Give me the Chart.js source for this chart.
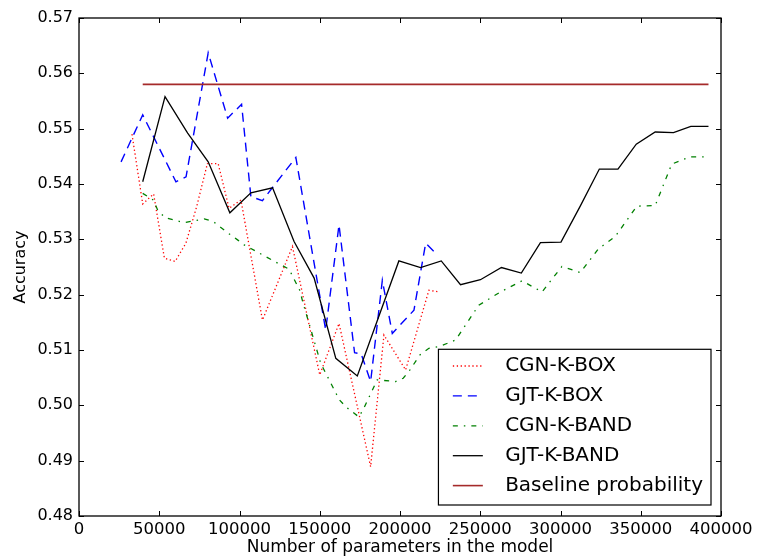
<!DOCTYPE html>
<html><head><meta charset="utf-8">
<script src="https://cdn.jsdelivr.net/npm/chart.js@4/dist/chart.umd.min.js"></script>
<style>html,body{margin:0;padding:0;background:#fff}canvas{display:block}</style>
</head><body>
<canvas id="c" width="758" height="559"></canvas>
<script>
// ---- tick labels ----
const xTicks = [0, 50000, 100000, 150000, 200000, 250000, 300000, 350000, 400000];
const yTicks = [0.48, 0.49, 0.50, 0.51, 0.52, 0.53, 0.54, 0.55, 0.56, 0.57];

// ---- series ----
const seriesNames = ["CGN-K-BOX", "GJT-K-BOX", "CGN-K-BAND", "GJT-K-BAND", "Baseline probability"];

const cgnBoxX = [33000, 39700, 46500, 53200, 59900, 66600, 73300, 80000, 86700, 93500, 100900, 114300, 133000, 150000, 162000, 181700, 190000, 203500, 218000, 224200];
const cgnBoxY = [0.5490, 0.5364, 0.5382, 0.5266, 0.5260, 0.5293, 0.5359, 0.5437, 0.5437, 0.5356, 0.5371, 0.5154, 0.5287, 0.5055, 0.5148, 0.4889, 0.5127, 0.5064, 0.5208, 0.5205];

const gjtBoxX = [26200, 39700, 60400, 66700, 80500, 92600, 101300, 107100, 114300, 135100, 153700, 162000, 171700, 175800, 181700, 189000, 195200, 208700, 216000, 222200];
const gjtBoxY = [0.5440, 0.5525, 0.5404, 0.5413, 0.5637, 0.5519, 0.5544, 0.5377, 0.5370, 0.5448, 0.5136, 0.5326, 0.5095, 0.5093, 0.5043, 0.5226, 0.5130, 0.5172, 0.5293, 0.5275];

const cgnBandX = [39700, 46300, 49000, 53600, 65600, 78000, 83700, 93000, 98800, 102900, 114300, 125700, 130900, 137500, 139700, 150600, 162200, 166400, 174400, 177500, 185800, 197300, 202000, 206200, 212400, 218000, 224200, 234600, 249100, 262600, 276000, 288500, 300900, 312300, 323700, 334100, 347600, 359000, 369300, 380700, 392100];
const cgnBandY = [0.5383, 0.5371, 0.5353, 0.5339, 0.5330, 0.5337, 0.5332, 0.5311, 0.5299, 0.5290, 0.5272, 0.5254, 0.5246, 0.5208, 0.5184, 0.5076, 0.5010, 0.4997, 0.4979, 0.4995, 0.5046, 0.5043, 0.5049, 0.5064, 0.5091, 0.5103, 0.5106, 0.5118, 0.5181, 0.5205, 0.5225, 0.5205, 0.5251, 0.5240, 0.5283, 0.5305, 0.5360, 0.5361, 0.5436, 0.5449, 0.5449];

const gjtBandX = [39700, 53600, 67700, 80500, 94000, 107100, 120600, 134000, 146500, 160000, 173400, 199300, 212800, 225700, 237700, 250100, 263200, 275600, 287500, 300300, 312300, 324200, 335800, 347200, 359000, 370400, 381200, 392200];
const gjtBandY = [0.5404, 0.5558, 0.5492, 0.5440, 0.5348, 0.5384, 0.5393, 0.5296, 0.5230, 0.5085, 0.5053, 0.5261, 0.5249, 0.5261, 0.5218, 0.5227, 0.5249, 0.5239, 0.5294, 0.5295, 0.5360, 0.5427, 0.5427, 0.5472, 0.5494, 0.5493, 0.5504, 0.5504];

const baselineX = [39700, 392200];
const baselineY = [0.558, 0.558];

// ---- build datasets ----
const pts = (xs, ys) => xs.map((x, i) => ({x: x, y: ys[i]}));
const styles = [
  {color: '#ff0000', dash: [1.3, 2.6], width: 1.3},
  {color: '#0000ff', dash: [9, 6], width: 1.4},
  {color: '#008000', dash: [5, 6, 1.5, 6], width: 1.3},
  {color: '#000000', dash: [], width: 1.3},
  {color: '#a52a2a', dash: [], width: 1.6}
];
const xsAll = [cgnBoxX, gjtBoxX, cgnBandX, gjtBandX, baselineX];
const ysAll = [cgnBoxY, gjtBoxY, cgnBandY, gjtBandY, baselineY];

const datasets = seriesNames.map((name, i) => ({
  label: name,
  data: pts(xsAll[i], ysAll[i]),
  showLine: true,
  borderColor: styles[i].color,
  backgroundColor: styles[i].color,
  borderDash: styles[i].dash,
  borderWidth: styles[i].width,
  pointRadius: 0,
  pointHoverRadius: 0,
  tension: 0,
  fill: false,
  order: seriesNames.length - 1 - i
}));

const FONT = "'DejaVu Sans', 'Liberation Sans', sans-serif";
Chart.defaults.font.family = FONT;
Chart.defaults.color = '#000';

const framePlugin = {
  id: 'frame',
  afterDatasetsDraw(chart) {
    const {ctx, chartArea: a, scales} = chart;
    const sx = scales.x, sy = scales.y;
    const L = 5;
    ctx.save();
    ctx.strokeStyle = '#000';
    ctx.lineWidth = 1;
    ctx.setLineDash([]);
    ctx.beginPath();
    sx.ticks.forEach(t => {
      const p = Math.round(sx.getPixelForValue(t.value)) + 0.5;
      ctx.moveTo(p, a.bottom); ctx.lineTo(p, a.bottom - L);
      ctx.moveTo(p, a.top); ctx.lineTo(p, a.top + L);
    });
    sy.ticks.forEach(t => {
      const p = Math.round(sy.getPixelForValue(t.value)) + 0.5;
      ctx.moveTo(a.left, p); ctx.lineTo(a.left + L, p);
      ctx.moveTo(a.right, p); ctx.lineTo(a.right - L, p);
    });
    ctx.stroke();
    ctx.lineWidth = 1.3;
    ctx.strokeRect(a.left, a.top, a.right - a.left, a.bottom - a.top);
    ctx.restore();
  }
};

const legendPlugin = {
  id: 'boxLegend',
  afterDraw(chart) {
    const {ctx, chartArea: a} = chart;
    const ds = chart.data.datasets;
    ctx.save();
    ctx.font = '20px ' + FONT;
    let tw = 0;
    ds.forEach(d => { tw = Math.max(tw, ctx.measureText(d.label).width); });
    const w = 66.7 + tw + 8;
    const h = 155.7;
    const right = a.right - 10;
    const bottom = a.bottom - 11;
    const left = right - w, top = bottom - h;
    ctx.fillStyle = '#fff';
    ctx.fillRect(left, top, w, h);
    ctx.strokeStyle = '#000';
    ctx.lineWidth = 1.2;
    ctx.setLineDash([]);
    ctx.strokeRect(left, top, w, h);
    ds.forEach((d, i) => {
      const cy = top + 16.7 + i * 29.9;
      ctx.beginPath();
      ctx.strokeStyle = d.borderColor;
      ctx.lineWidth = d.borderWidth;
      ctx.setLineDash(d.borderDash);
      ctx.moveTo(left + 14.4, cy);
      ctx.lineTo(left + 44.4, cy);
      ctx.stroke();
      ctx.setLineDash([]);
      ctx.fillStyle = '#000';
      ctx.textBaseline = 'middle';
      ctx.textAlign = 'left';
      ctx.fillText(d.label, left + 66.7, cy);
    });
    ctx.restore();
  }
};

new Chart(document.getElementById('c'), {
  type: 'scatter',
  data: {datasets: datasets},
  plugins: [framePlugin, legendPlugin],
  options: {
    responsive: false,
    animation: false,
    devicePixelRatio: 1,
    layout: {padding: {top: 18, right: 37, left: 0, bottom: 0}},
    plugins: {legend: {display: false}, tooltip: {enabled: false}},
    scales: {
      x: {
        type: 'linear', min: 0, max: 400000,
        afterBuildTicks: s => { s.ticks = xTicks.map(v => ({value: v})); },
        afterFit: s => { s.height = 43; },
        grid: {display: false, drawTicks: false},
        border: {display: false},
        ticks: {font: {size: 16.5}, color: '#000', padding: 4, maxRotation: 0, autoSkip: false,
                callback: v => String(v)},
        title: {display: true, text: 'Number of parameters in the model', font: {size: 17}, color: '#000',
                padding: {top: 0, bottom: 1}}
      },
      y: {
        type: 'linear', min: 0.48, max: 0.57,
        afterBuildTicks: s => { s.ticks = yTicks.map(v => ({value: v})); },
        afterFit: s => { s.width = 79; },
        grid: {display: false, drawTicks: false},
        border: {display: false},
        ticks: {font: {size: 16}, color: '#000', padding: 6, autoSkip: false,
                callback: v => Number(v).toFixed(2)},
        title: {display: true, text: 'Accuracy', font: {size: 16}, color: '#000',
                padding: {top: 11, bottom: 0}}
      }
    }
  }
});
</script>
</body></html>
